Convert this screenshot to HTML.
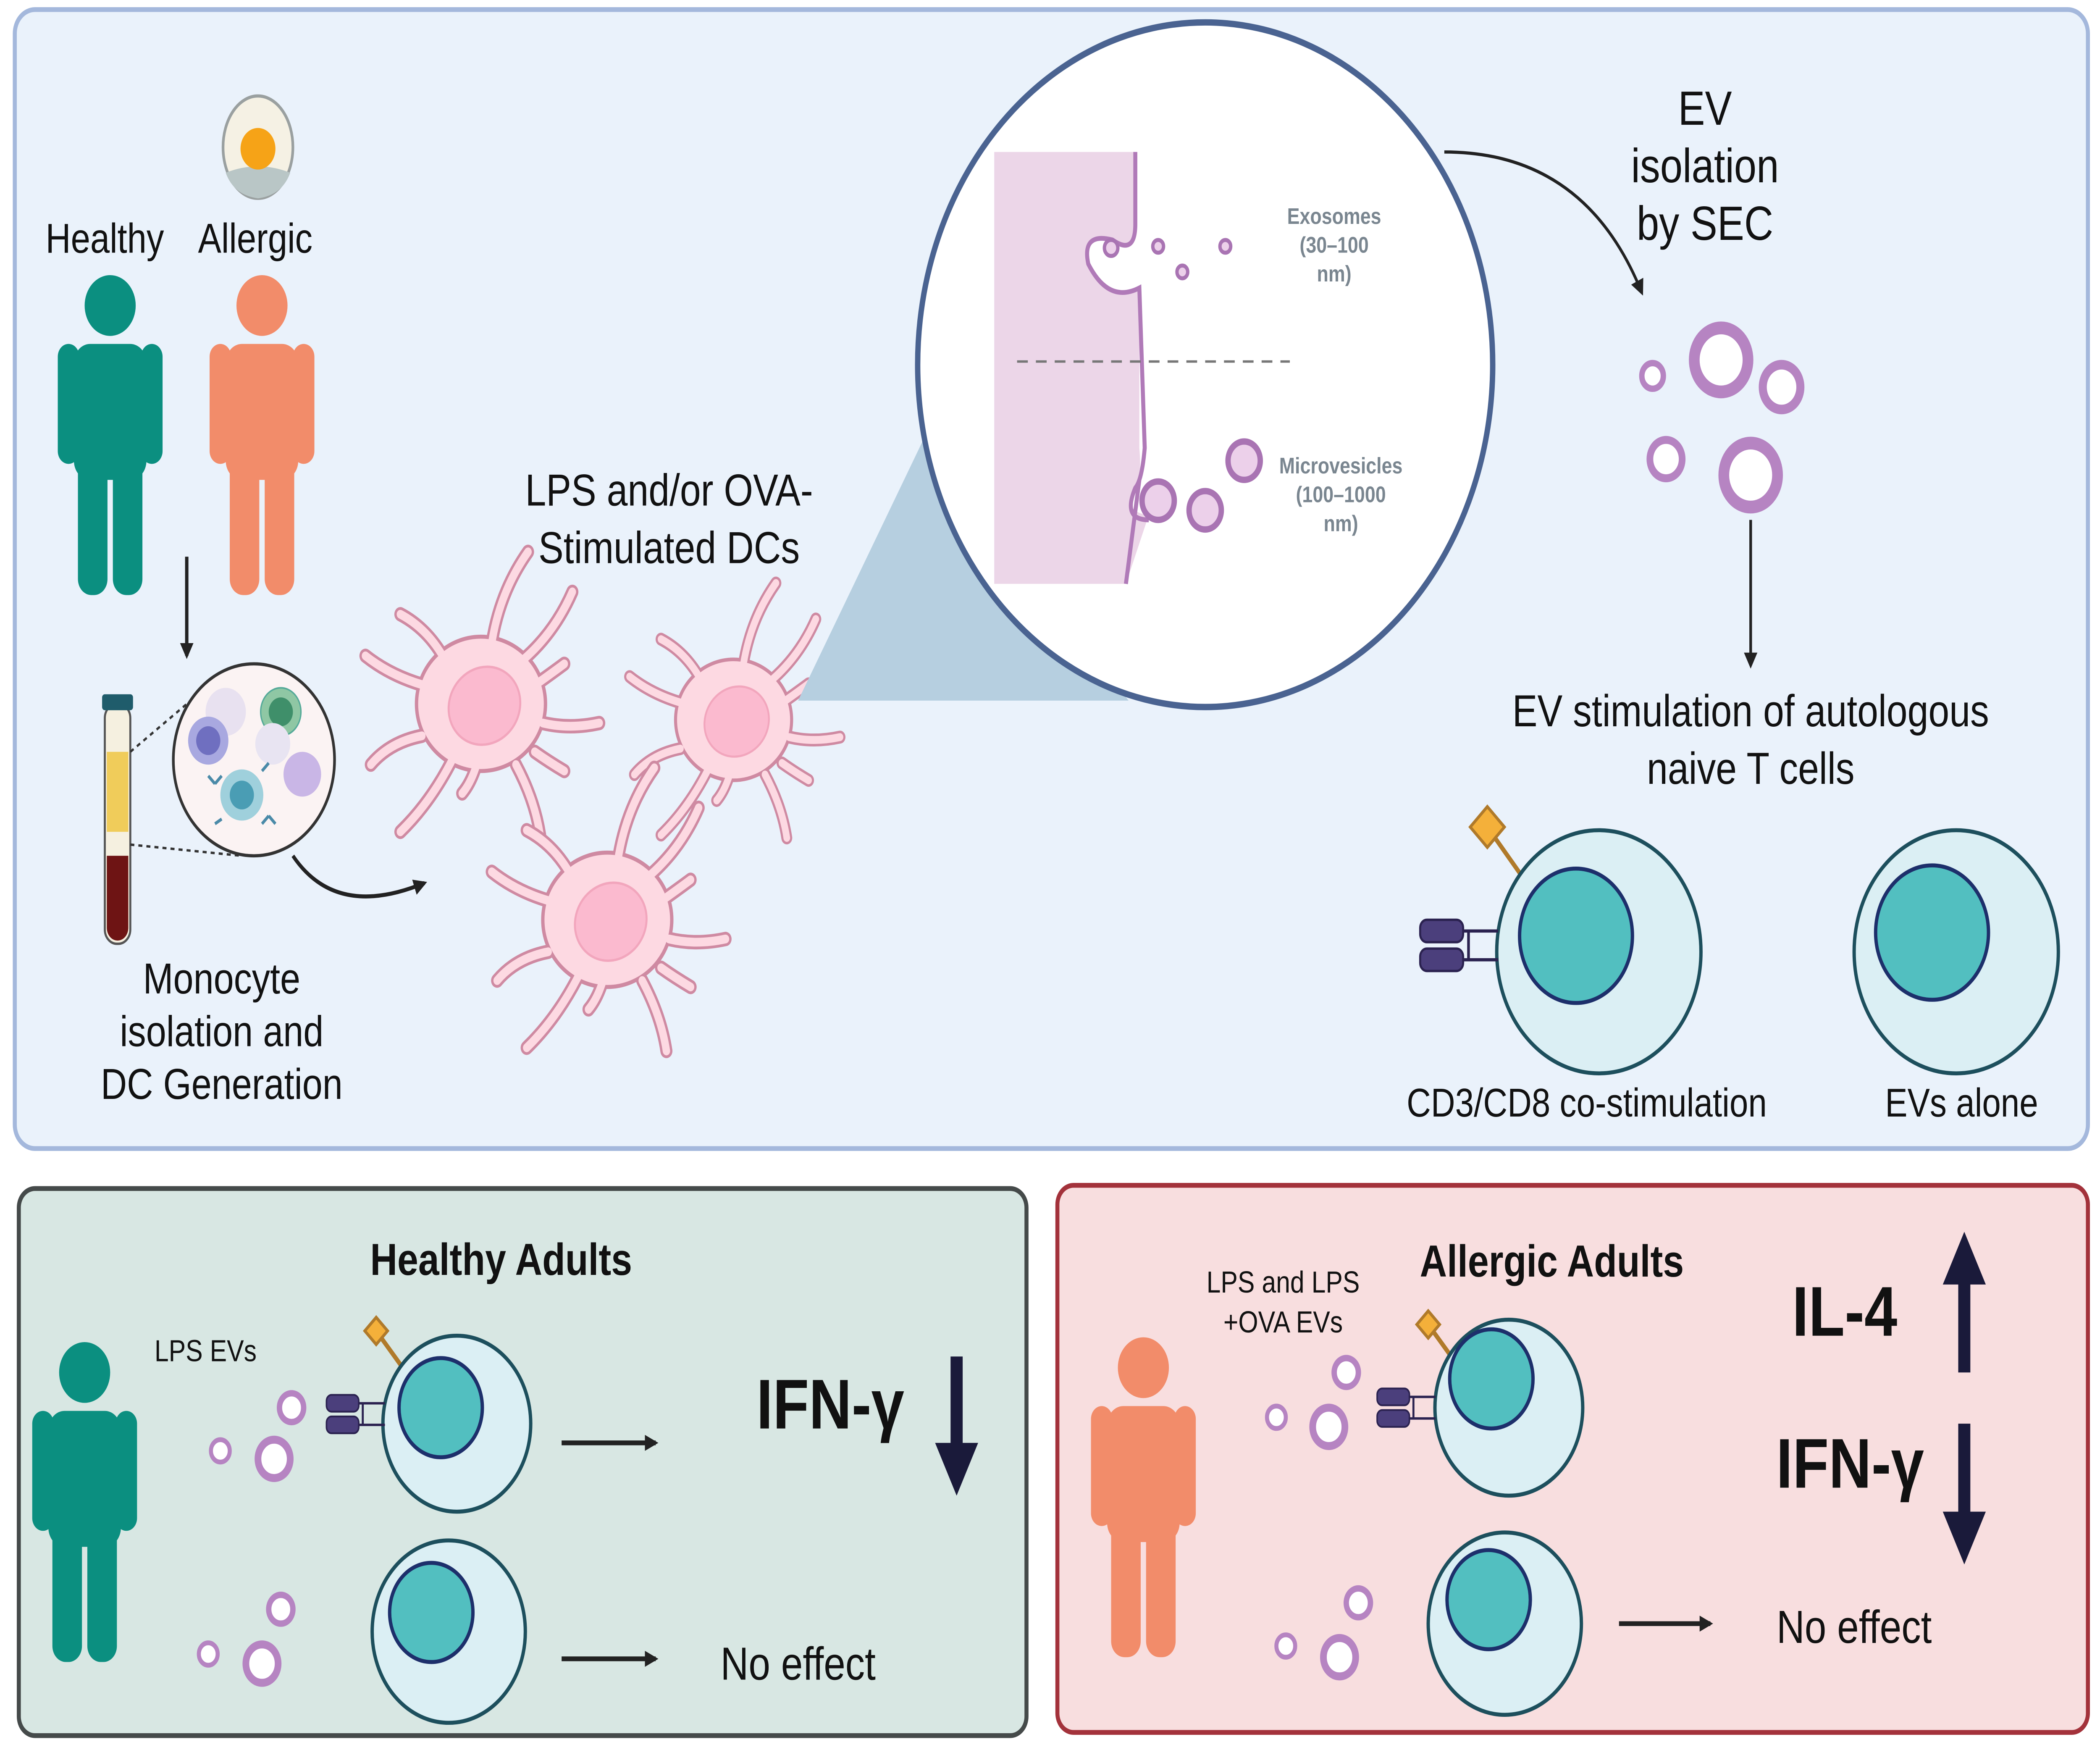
<!DOCTYPE html>
<html><head><meta charset="utf-8">
<style>
html,body{margin:0;padding:0;background:#fff;width:100%;height:100%;overflow:hidden;}
svg#main{position:fixed;left:0;top:0;width:100vw;height:100vh;display:block;}
text{font-family:"Liberation Sans",sans-serif;}
</style></head><body>
<svg id="main" viewBox="0 0 1563 1094" preserveAspectRatio="none" xmlns="http://www.w3.org/2000/svg">
<defs>
<marker id="ah" markerWidth="10" markerHeight="10" refX="8" refY="5" orient="auto" markerUnits="userSpaceOnUse"><path d="M0,0 L10,5 L0,10 z" fill="#222"/></marker>
<g id="person">
 <circle cx="0" cy="19" r="19"/>
 <rect x="-27" y="43" width="54" height="85" rx="12"/>
 <rect x="-39" y="43" width="16" height="75" rx="8"/>
 <rect x="23" y="43" width="16" height="75" rx="8"/>
 <rect x="-24" y="100" width="22" height="100" rx="10"/>
 <rect x="2" y="100" width="22" height="100" rx="10"/>
</g>
<path id="dend" d="M8,-38 Q14,-70 35,-95 M32,-28 Q55,-45 68,-70 M-30,-32 Q-42,-48 -60,-56 M-44,-12 Q-68,-18 -86,-30 M-44,20 Q-68,24 -82,38 M-22,36 Q-38,62 -60,80 M26,38 Q40,60 44,82 M46,12 Q66,16 88,12 M44,-14 Q54,-20 62,-25 M40,30 Q50,36 62,42 M-4,40 Q-8,50 -14,56"/>
<g id="dc">
 <use href="#dend" fill="none" stroke="#cf8aa2" stroke-width="9" stroke-linecap="round"/>
 <ellipse cx="0" cy="0" rx="48" ry="42" fill="#fdd9e2" stroke="#cf8aa2" stroke-width="2.5"/>
 <use href="#dend" fill="none" stroke="#fdd9e2" stroke-width="5.5" stroke-linecap="round"/>
 <ellipse cx="0" cy="0" rx="44" ry="38" fill="#fdd9e2"/>
 <ellipse cx="2" cy="2" rx="27" ry="24" fill="#fbbacf" stroke="#f2a6bd" stroke-width="1.5" transform="rotate(-20)"/>
</g>
<g id="rec">
 <rect x="0" y="0" width="32" height="14" rx="5" fill="#4b3f7c" stroke="#2b2250" stroke-width="1.5"/>
 <rect x="0" y="18" width="32" height="14" rx="5" fill="#4b3f7c" stroke="#2b2250" stroke-width="1.5"/>
 <path d="M32,7 H58 M32,25 H58 M36,7 V25" stroke="#2b2250" stroke-width="2" fill="none"/>
</g>
</defs>

<rect x="11" y="6" width="1543" height="712" rx="15" fill="#eaf2fb" stroke="#a4b8dc" stroke-width="3"/>
<rect x="14" y="743" width="750" height="342" rx="12" fill="#d8e7e3" stroke="#454a4a" stroke-width="3"/>
<rect x="787" y="741" width="767" height="342" rx="12" fill="#f8dedf" stroke="#a3323b" stroke-width="3"/>

<g fill="#0b8f80" transform="translate(82,172)"><use href="#person"/></g>
<g fill="#f28c6a" transform="translate(195,172)"><use href="#person"/></g>
<text x="78" y="158" font-size="26" text-anchor="middle" fill="#111">Healthy</text>
<text x="190" y="158" font-size="26" text-anchor="middle" fill="#111">Allergic</text>
<ellipse cx="192" cy="92" rx="26" ry="32" fill="#f5f1e4" stroke="#9aa0a0" stroke-width="2"/>
<path d="M168,108 Q192,100 216,108 Q210,122 192,124 Q174,122 168,108z" fill="#b9c6c6"/>
<circle cx="192" cy="93" r="13" fill="#f6a317"/>
<line x1="139" y1="348" x2="139" y2="410" stroke="#222" stroke-width="2.5" marker-end="url(#ah)"/>
<rect x="78" y="440" width="19" height="150" rx="9" fill="#f5f0e0" stroke="#555" stroke-width="1.5"/>
<rect x="79.5" y="470" width="16" height="50" fill="#f0cc5a"/>
<path d="M79.5,535 H95.5 V580 A8,8 0 0 1 79.5,580z" fill="#6e1414"/>
<rect x="76" y="434" width="23" height="10" rx="2" fill="#1f5c6b"/>
<line x1="97" y1="470" x2="170" y2="418" stroke="#333" stroke-width="1.5" stroke-dasharray="3,3"/>
<line x1="97" y1="528" x2="180" y2="535" stroke="#333" stroke-width="1.5" stroke-dasharray="3,3"/>
<circle cx="189" cy="475" r="60" fill="#fbf3f3" stroke="#333" stroke-width="2"/>
<circle cx="168" cy="445" r="15" fill="#e6dff0" opacity="0.9"/>
<circle cx="209" cy="445" r="15" fill="#8fc7a4" stroke="#5a9" stroke-width="1"/>
<circle cx="209" cy="445" r="9" fill="#3f8f6a"/>
<circle cx="155" cy="463" r="15" fill="#a8a8e0"/>
<circle cx="155" cy="463" r="9" fill="#6f6fc0"/>
<circle cx="203" cy="465" r="13" fill="#e8e4f2"/>
<circle cx="225" cy="484" r="14" fill="#c9b6e6"/>
<circle cx="180" cy="497" r="16" fill="#9fd0dc"/>
<circle cx="180" cy="497" r="9" fill="#4a9db4"/>
<g stroke="#4a8aa8" stroke-width="2"><path d="M160,490 l-5,-5 M160,490 l5,-5 M200,510 l-5,5 M200,510 l5,5 M165,512 l-5,3 M195,482 l5,-5"/></g>
<path d="M218,535 Q250,575 316,552" fill="none" stroke="#222" stroke-width="2.5" marker-end="url(#ah)"/>
<text font-size="27" text-anchor="middle" fill="#111"><tspan x="165" y="621">Monocyte</tspan><tspan x="165" y="654">isolation and</tspan><tspan x="165" y="687">DC Generation</tspan></text>

<g transform="translate(358,440)"><use href="#dc"/></g>
<g transform="translate(546,450) scale(0.9)"><use href="#dc"/></g>
<g transform="translate(452,575)"><use href="#dc"/></g>
<text font-size="28" text-anchor="middle" fill="#111"><tspan x="498" y="316">LPS and/or OVA-</tspan><tspan x="498" y="352">Stimulated DCs</tspan></text>

<polygon points="594,438 690,270 840,438" fill="#b6cfe0"/>
<circle cx="897" cy="228" r="214" fill="#fff" stroke="#4a6391" stroke-width="4"/>
<path d="M740,95 H845 V140 Q845,160 828,150 Q805,145 810,165 Q825,190 848,180 L848,280 Q850,300 845,305 Q835,320 855,322 L838,365 H740z" fill="#ecd6e8"/>
<path d="M845,95 V140 Q845,160 828,150 Q805,145 810,165 Q825,190 848,180 L852,280 Q850,300 845,305 Q835,325 855,325 M848,300 L838,365" fill="none" stroke="#b07ab8" stroke-width="3"/>
<line x1="757" y1="226" x2="960" y2="226" stroke="#777" stroke-width="1.5" stroke-dasharray="8,6"/>
<g fill="#ecd0ea" stroke="#a974b3" stroke-width="2.5">
<circle cx="827" cy="155" r="5"/><circle cx="862" cy="154" r="4"/><circle cx="880" cy="170" r="4"/><circle cx="912" cy="154" r="4"/>
<circle cx="926" cy="288" r="12" stroke-width="4"/><circle cx="897" cy="319" r="12" stroke-width="4"/><circle cx="862" cy="313" r="12" stroke-width="4"/>
</g>
<text font-size="14" font-weight="bold" text-anchor="middle" fill="#7a8690"><tspan x="993" y="140">Exosomes</tspan><tspan x="993" y="158">(30–100</tspan><tspan x="993" y="176">nm)</tspan></text>
<text font-size="14" font-weight="bold" text-anchor="middle" fill="#7a8690"><tspan x="998" y="296">Microvesicles</tspan><tspan x="998" y="314">(100–1000</tspan><tspan x="998" y="332">nm)</tspan></text>

<path d="M1075,95 Q1180,95 1222,183" fill="none" stroke="#222" stroke-width="2" marker-end="url(#ah)"/>
<text font-size="30" text-anchor="middle" fill="#111"><tspan x="1269" y="78">EV</tspan><tspan x="1269" y="114">isolation</tspan><tspan x="1269" y="150">by SEC</tspan></text>
<g fill="#fff" stroke="#b684c2">
<circle cx="1281" cy="225" r="20" stroke-width="8"/><circle cx="1326" cy="242" r="14" stroke-width="6"/><circle cx="1230" cy="235" r="8" stroke-width="4"/><circle cx="1240" cy="287" r="12" stroke-width="5"/><circle cx="1303" cy="297" r="20" stroke-width="8"/>
</g>
<line x1="1303" y1="325" x2="1303" y2="416" stroke="#222" stroke-width="2" marker-end="url(#ah)"/>
<text font-size="28" text-anchor="middle" fill="#111"><tspan x="1303" y="454">EV stimulation of  autologous</tspan><tspan x="1303" y="490">naive T cells</tspan></text>
<line x1="1107" y1="517" x2="1133" y2="548" stroke="#b07a2a" stroke-width="3"/>
<rect x="1098" y="508" width="18" height="18" fill="#f4b03a" stroke="#b07a2a" stroke-width="2" transform="rotate(45 1107 517)"/>
<circle cx="1190" cy="595" r="76" fill="#dbeff4" stroke="#1d4f5d" stroke-width="2.5"/>
<circle cx="1173" cy="585" r="42" fill="#52bfc0" stroke="#1d2f6b" stroke-width="2.5"/>
<g transform="translate(1057,575)"><use href="#rec"/></g>
<circle cx="1456" cy="595" r="76" fill="#dbeff4" stroke="#1d4f5d" stroke-width="2.5"/>
<circle cx="1438" cy="583" r="42" fill="#52bfc0" stroke="#1d2f6b" stroke-width="2.5"/>
<text x="1181" y="698" font-size="25" text-anchor="middle" fill="#111">CD3/CD8 co-stimulation</text>
<text x="1460" y="698" font-size="25" text-anchor="middle" fill="#111">EVs alone</text>

<g fill="#0b8f80" transform="translate(63,839)"><use href="#person"/></g>
<text x="373" y="797" font-size="28" font-weight="bold" text-anchor="middle" fill="#111">Healthy Adults</text>
<text x="153" y="851" font-size="19" text-anchor="middle" fill="#111">LPS  EVs</text>
<g fill="#fff" stroke="#b684c2">
<circle cx="217" cy="880" r="9" stroke-width="4"/><circle cx="204" cy="912" r="12" stroke-width="5"/><circle cx="164" cy="907" r="7" stroke-width="3"/>
<circle cx="209" cy="1006" r="9" stroke-width="4"/><circle cx="195" cy="1040" r="12" stroke-width="5"/><circle cx="155" cy="1034" r="7" stroke-width="3"/>
</g>
<line x1="280" y1="832" x2="298" y2="853" stroke="#b07a2a" stroke-width="3"/>
<rect x="274" y="826" width="12" height="12" fill="#f4b03a" stroke="#b07a2a" stroke-width="2" transform="rotate(45 280 832)"/>
<circle cx="340" cy="890" r="55" fill="#dbeff4" stroke="#1d4f5d" stroke-width="2.5"/>
<circle cx="328" cy="880" r="31" fill="#52bfc0" stroke="#1d2f6b" stroke-width="2.5"/>
<g transform="translate(243,872) scale(0.75)"><use href="#rec"/></g>
<line x1="418" y1="902" x2="488" y2="902" stroke="#222" stroke-width="3" marker-end="url(#ah)"/>
<text x="618" y="893" font-size="44" font-weight="bold" text-anchor="middle" fill="#111">IFN-γ</text>
<line x1="712" y1="848" x2="712" y2="905" stroke="#1a1a3a" stroke-width="9"/>
<path d="M696,902 L728,902 L712,935z" fill="#1a1a3a"/>
<circle cx="334" cy="1020" r="57" fill="#dbeff4" stroke="#1d4f5d" stroke-width="2.5"/>
<circle cx="321" cy="1008" r="31" fill="#52bfc0" stroke="#1d2f6b" stroke-width="2.5"/>
<line x1="418" y1="1037" x2="488" y2="1037" stroke="#222" stroke-width="3" marker-end="url(#ah)"/>
<text x="594" y="1050" font-size="29" text-anchor="middle" fill="#111">No effect</text>

<g fill="#f28c6a" transform="translate(851,836)"><use href="#person"/></g>
<text x="1155" y="798" font-size="28" font-weight="bold" text-anchor="middle" fill="#111">Allergic Adults</text>
<text font-size="19" text-anchor="middle" fill="#111"><tspan x="955" y="808">LPS and LPS</tspan><tspan x="955" y="833">+OVA EVs</tspan></text>
<g fill="#fff" stroke="#b684c2">
<circle cx="1002" cy="858" r="9" stroke-width="4"/><circle cx="989" cy="892" r="12" stroke-width="5"/><circle cx="950" cy="886" r="7" stroke-width="3"/>
<circle cx="1011" cy="1002" r="9" stroke-width="4"/><circle cx="997" cy="1036" r="12" stroke-width="5"/><circle cx="957" cy="1029" r="7" stroke-width="3"/>
</g>
<line x1="1063" y1="828" x2="1081" y2="849" stroke="#b07a2a" stroke-width="3"/>
<rect x="1057" y="822" width="12" height="12" fill="#f4b03a" stroke="#b07a2a" stroke-width="2" transform="rotate(45 1063 828)"/>
<circle cx="1123" cy="880" r="55" fill="#dbeff4" stroke="#1d4f5d" stroke-width="2.5"/>
<circle cx="1110" cy="862" r="31" fill="#52bfc0" stroke="#1d2f6b" stroke-width="2.5"/>
<g transform="translate(1025,868) scale(0.75)"><use href="#rec"/></g>
<text x="1373" y="835" font-size="44" font-weight="bold" text-anchor="middle" fill="#111">IL-4</text>
<line x1="1462" y1="858" x2="1462" y2="800" stroke="#1a1a3a" stroke-width="9"/>
<path d="M1446,803 L1478,803 L1462,770z" fill="#1a1a3a"/>
<text x="1377" y="930" font-size="44" font-weight="bold" text-anchor="middle" fill="#111">IFN-γ</text>
<line x1="1462" y1="890" x2="1462" y2="948" stroke="#1a1a3a" stroke-width="9"/>
<path d="M1446,945 L1478,945 L1462,978z" fill="#1a1a3a"/>
<circle cx="1120" cy="1015" r="57" fill="#dbeff4" stroke="#1d4f5d" stroke-width="2.5"/>
<circle cx="1108" cy="1000" r="31" fill="#52bfc0" stroke="#1d2f6b" stroke-width="2.5"/>
<line x1="1205" y1="1015" x2="1273" y2="1015" stroke="#222" stroke-width="3" marker-end="url(#ah)"/>
<text x="1380" y="1027" font-size="29" text-anchor="middle" fill="#111">No effect</text>
</svg>
</body></html>
